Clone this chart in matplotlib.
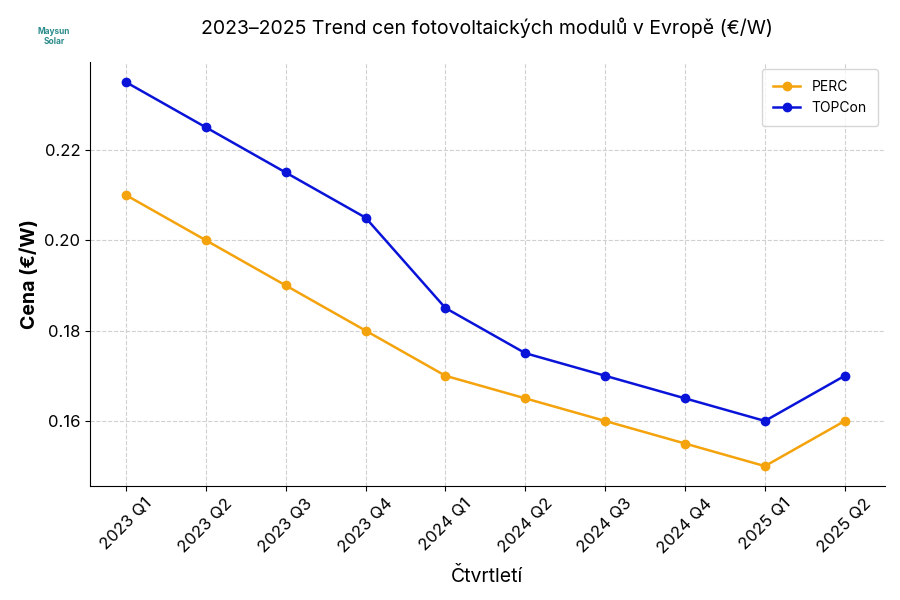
import matplotlib
matplotlib.use("Agg")
import matplotlib.pyplot as plt

quarters = ["2023 Q1", "2023 Q2", "2023 Q3", "2023 Q4", "2024 Q1",
            "2024 Q2", "2024 Q3", "2024 Q4", "2025 Q1", "2025 Q2"]
perc = [0.210, 0.200, 0.190, 0.180, 0.170, 0.165, 0.160, 0.155, 0.150, 0.160]
topcon = [0.235, 0.225, 0.215, 0.205, 0.185, 0.175, 0.170, 0.165, 0.160, 0.170]

plt.rcParams["font.family"] = "Inter"
fig = plt.figure(figsize=(9, 6), dpi=100)
ax = fig.add_axes([0.100, 0.19, 0.883, 0.707])

x = range(len(quarters))
ax.plot(x, perc, color="#f4a30c", marker="o", markersize=6, linewidth=1.8, label="PERC")
ax.plot(x, topcon, color="#0a14d8", marker="o", markersize=6, linewidth=1.8, label="TOPCon")

ax.set_xlim(-0.45, 9.5)
ax.set_ylim(0.1456, 0.2395)
ax.set_yticks([0.16, 0.18, 0.20, 0.22])
ax.set_yticklabels(["0.16", "0.18", "0.20", "0.22"])
ax.set_xticks(list(x))
ax.set_xticklabels(quarters, rotation=45, fontsize=12)
ax.tick_params(axis="y", labelsize=12)
ax.grid(True, linestyle="--", color="#d0d0d0", linewidth=0.8)
for s in ["top", "right"]:
    ax.spines[s].set_visible(False)

ax.set_title("2023–2025 Trend cen fotovoltaických modulů v Evropě (€/W)", fontsize=14, pad=20)
ax.set_xlabel("Čtvrtletí", fontsize=14, labelpad=8)
ax.set_ylabel("Cena (€/W)", fontsize=14, fontweight="bold")
ax.legend(loc="upper right", fontsize=10, borderpad=0.8)

fig.text(0.06, 0.955, "Maysun\nSolar", fontsize=6, color="#2a8a8a", fontweight="bold", ha="center", va="top")

fig.savefig("out.png", dpi=100)
